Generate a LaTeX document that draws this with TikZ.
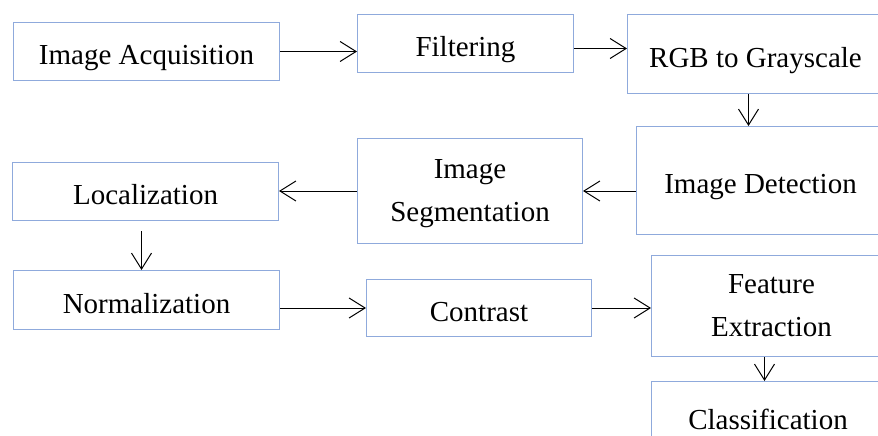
\documentclass[tikz,border=0pt]{standalone}
\usepackage{fontspec}
\setmainfont{Liberation Serif}
\usetikzlibrary{arrows.meta}

\definecolor{boxline}{RGB}{143,170,220}

\tikzset{
  stage/.style={draw=boxline, line width=1pt, anchor=north west, inner sep=0pt,
                align=center, font=\fontsize{29}{43}\selectfont},
  oneliner/.style={stage, text height=28pt, text depth=2pt},
  twoliner/.style={stage, text depth=0pt},
  flow/.style={-{Straight Barb[length=16pt,width=20pt]}, line width=1pt}
}

\begin{document}
\begin{tikzpicture}[x=1pt,y=-1pt]
\useasboundingbox (0,0) rectangle (878,436);
\clip (0,0) rectangle (878,436);

% name / left / top / width / height / style / label
\newcommand{\stages}{ia/13/22/266/58/oneliner/Image Acquisition,
                     fl/357/14/216/58/oneliner/Filtering,
                     rgb/627/14/256/79/oneliner/RGB to Grayscale,
                     id/636/126/248/108/oneliner/Image Detection,
                     sg/357/138/225/105/twoliner/Image\\Segmentation,
                     loc/12/162/266/58/oneliner/Localization,
                     nm/13/270/266/59/oneliner/Normalization,
                     ct/366/279/225/57/oneliner/Contrast,
                     fe/651/255/240/101/twoliner/Feature\\Extraction,
                     cl/651/381/233/70/oneliner/Classification}

\foreach \n / \x / \y / \w / \h / \st / \txt in \stages
  \node[\st, minimum width=\w pt, minimum height=\h pt] (\n) at (\x,\y) {\txt};

\draw[flow] (ia.east) -- (ia.east -| fl.west);
\draw[flow] ([yshift=-5pt]fl.east) -- ([yshift=-5pt]fl.east -| rgb.west);
\draw[flow] ([xshift=-7pt]rgb.south) -- ([xshift=-7pt]rgb.south |- id.north);
\draw[flow] (sg.east -| id.west) -- (sg.east);
\draw[flow] (sg.west) -- (sg.west -| loc.east);
\draw[flow] ([yshift=-10pt,xshift=-4pt]loc.south) -- ([xshift=-4pt]loc.south |- nm.north);
\draw[flow] (nm.east |- ct.west) -- (ct.west);
\draw[flow] (ct.east) -- (ct.east -| fe.west);
\draw[flow] ([xshift=-7pt]fe.south) -- ([xshift=-7pt]fe.south |- cl.north);

\end{tikzpicture}
\end{document}
